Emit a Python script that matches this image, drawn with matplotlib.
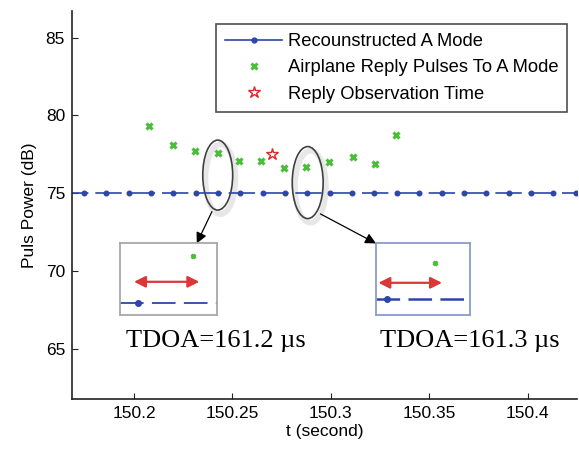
import matplotlib
matplotlib.use("Agg")
import matplotlib.pyplot as plt
import matplotlib.patheffects as pe
from matplotlib.patches import Ellipse
from matplotlib.lines import Line2D

# reconstructed A mode (ends run past the axis limits)
mode_t = [150.1633, 150.1746, 150.1859, 150.1973, 150.2086, 150.2200, 150.2313,
          150.2427, 150.2540, 150.2654, 150.2767, 150.2881, 150.2994, 150.3108,
          150.3221, 150.3335, 150.3448, 150.3562, 150.3675, 150.3789, 150.3902,
          150.4016, 150.4129, 150.4243, 150.4356]
mode_p = [75.0] * len(mode_t)

# airplane reply pulses
reply_t = [150.2078, 150.2199, 150.2311, 150.2426, 150.2535, 150.2646,
           150.2761, 150.2873, 150.2988, 150.3111, 150.3222, 150.3330]
reply_p = [79.31, 78.12, 77.73, 77.60, 77.05, 77.09,
           76.64, 76.67, 77.01, 77.31, 76.88, 78.76]

obs_t = [150.2700]
obs_p = [77.50]

# zoomed inset contents (inset-normalised units)
inset1_green = (0.747, 0.827)
inset1_arrow = (0.144, 0.815, 0.464)
inset1_line_y = 0.163
inset1_dot_x = 0.188
inset2_green = (0.632, 0.729)
inset2_arrow = (0.025, 0.704, 0.45)
inset2_line_y = 0.229
inset2_dot_x = 0.115

labels = ["Recounstructed A Mode", "Airplane Reply Pulses To A Mode",
          "Reply Observation Time"]
tdoa_labels = ["TDOA=161.2 \u00b5s", "TDOA=161.3 \u00b5s"]

BLUE = "#2d46a8"
GREEN = "#4cbf3a"
RED = "#e02828"

plt.rcParams["font.family"] = ["Liberation Sans", "DejaVu Sans"]
plt.rcParams["lines.scale_dashes"] = False

fig = plt.figure(figsize=(5.79, 4.5), dpi=100)
ax = fig.add_axes([0.1244, 0.1133, 0.8722, 0.8622])

ax.plot(mode_t, mode_p, color=BLUE, lw=1.2, marker="o", ms=3.3,
        dashes=(19, 5))
ax.plot(reply_t, reply_p, ls="none", marker="x", ms=4.8, mew=2.3, color=GREEN)
ax.plot(obs_t, obs_p, ls="none", marker="*", ms=9, mfc="none", mec=RED, mew=1)

ax.set_xlim(150.1685, 150.425)
ax.set_ylim(61.8, 86.7)
ax.set_xticks([150.2, 150.25, 150.3, 150.35, 150.4])
ax.set_xticklabels(["150.2", "150.25", "150.3", "150.35", "150.4"])
ax.set_yticks([65, 70, 75, 80, 85])
ax.tick_params(direction="in", length=4, labelsize=12.5, pad=5, color="#222222")
for s in ["top", "right"]:
    ax.spines[s].set_visible(False)
for s in ["left", "bottom"]:
    ax.spines[s].set_linewidth(1.2)
    ax.spines[s].set_color("#222222")
ax.set_xlabel("t (second)", fontsize=12.5, labelpad=2)
ax.set_ylabel("Puls Power (dB)", fontsize=12.5, labelpad=6)

handles = [
    Line2D([], [], color=BLUE, lw=1.2, marker="o", ms=3.5),
    Line2D([], [], ls="none", marker="x", ms=4.5, mew=2.2, color=GREEN),
    Line2D([], [], ls="none", marker="*", ms=9, mfc="none", mec=RED, mew=1),
]
leg = ax.legend(handles, labels, loc="upper right", bbox_to_anchor=(0.981, 0.9665),
                fontsize=13.2, frameon=True, fancybox=False, borderaxespad=0,
                handlelength=3.1, handletextpad=0.3, borderpad=0.5,
                labelspacing=0.5, numpoints=1)
leg.get_frame().set_edgecolor("#222222")
leg.get_frame().set_linewidth(1.2)

# highlight ellipses with soft shadow
shadow = [pe.SimpleLineShadow(offset=(2, -3), shadow_color="#bbbbbb", alpha=0.35,
                              linewidth=4), pe.Normal()]
for cx, cy, w, h in [(150.2425, 76.17, 0.0152, 4.49), (150.2882, 75.69, 0.0157, 4.62)]:
    e = Ellipse((cx, cy), w, h, fill=False, edgecolor="#404040", lw=1.2,
                path_effects=shadow)
    ax.add_patch(e)

arrowkw = dict(arrowstyle="-|>", color="black", lw=0.9, mutation_scale=16,
               shrinkA=0, shrinkB=0)
ax.annotate("", xy=(0.247, 0.401), xytext=(0.277, 0.483), xycoords="axes fraction",
            textcoords="axes fraction", arrowprops=arrowkw)
ax.annotate("", xy=(0.602, 0.401), xytext=(0.492, 0.477), xycoords="axes fraction",
            textcoords="axes fraction", arrowprops=arrowkw)

# zoom insets
def draw_inset(rect, edge, green, arrow, line_y, dot_x, lw):
    ins = ax.inset_axes(rect)
    ins.set_xlim(0, 1)
    ins.set_ylim(0, 1)
    ins.set_xticks([])
    ins.set_yticks([])
    for s in ins.spines.values():
        s.set_color(edge)
        s.set_linewidth(1.3)
    ins.plot([0, 1], [line_y, line_y], color=BLUE, lw=lw, dashes=(17, 6))
    ins.plot([dot_x], [line_y], color=BLUE, marker="o", ms=4, ls="none")
    ins.plot([green[0]], [green[1]], ls="none", marker="x", ms=3.5, mew=2, color=GREEN)
    ins.annotate("", xy=(arrow[1], arrow[2]), xytext=(arrow[0], arrow[2]),
                 arrowprops=dict(arrowstyle="<|-|>", color="#d83838", lw=1.6,
                                 mutation_scale=17, shrinkA=0, shrinkB=0))
    return ins

draw_inset([0.095, 0.2165, 0.1927, 0.1845], "#a8a8a8", inset1_green, inset1_arrow,
           inset1_line_y, inset1_dot_x, 1.3)
draw_inset([0.602, 0.2165, 0.1855, 0.1845], "#8a9bcc", inset2_green, inset2_arrow,
           inset2_line_y, inset2_dot_x, 1.8)

for x, s in zip([0.1063, 0.6099], tdoa_labels):
    ax.text(x, 0.135, s, transform=ax.transAxes, fontsize=19,
            family="Liberation Serif", va="baseline", ha="left")

fig.savefig("out.png", dpi=100)
